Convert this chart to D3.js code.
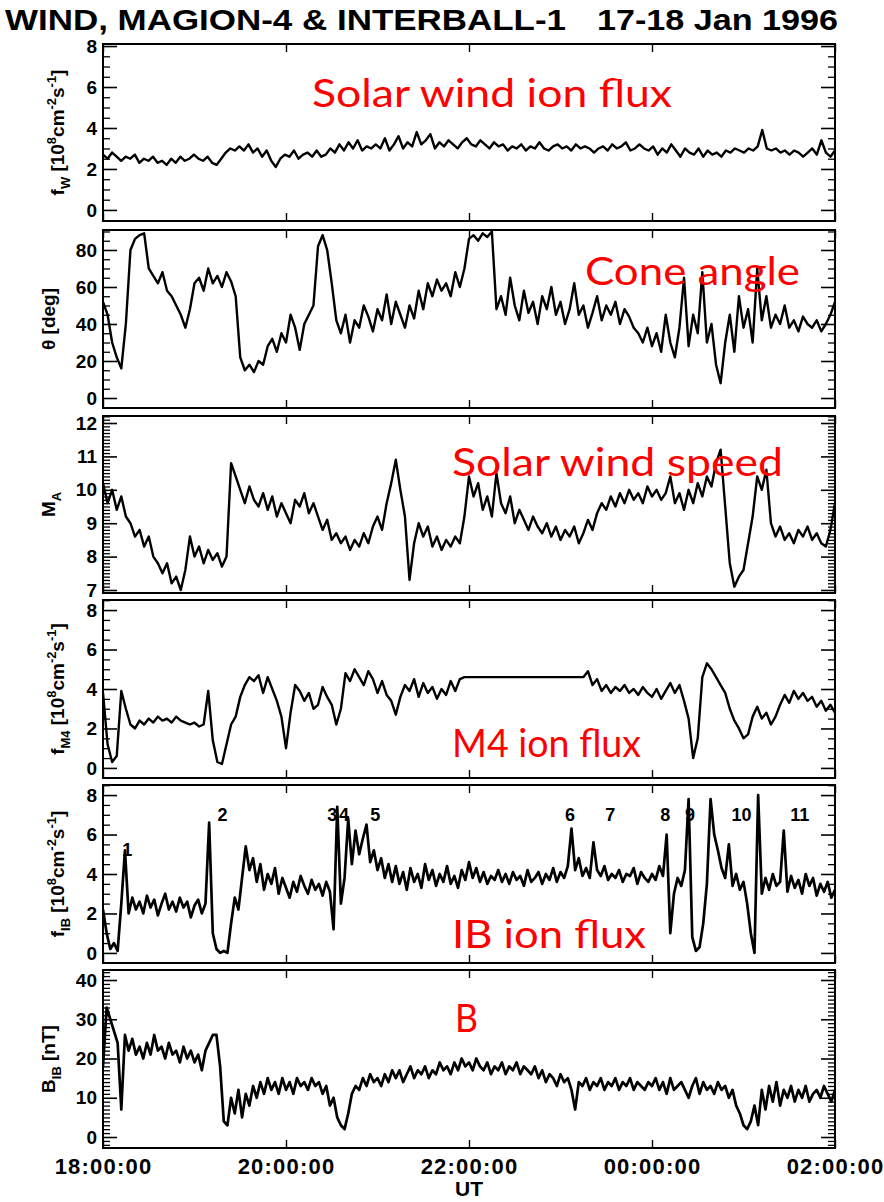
<!DOCTYPE html>
<html><head><meta charset="utf-8">
<script src="https://cdn.jsdelivr.net/npm/d3@7"></script>
<style>body{margin:0;background:#fff}svg{display:block}</style>
</head><body><svg id="c" width="884" height="1202"></svg>
<script>
// ---------- DATA (UT hours after 18:00, evenly sampled over 18:00-02:00) ----------
const titleLeft = "WIND, MAGION-4 & INTERBALL-1";
const titleRight = "17-18 Jan 1996";
const xTickHours = [0, 2, 4, 6, 8];
const xTickLabels = ["18:00:00", "20:00:00", "22:00:00", "00:00:00", "02:00:00"];
const xAxisTitle = "UT";

const fwFlux = [
2.7,2.5,2.8,2.6,2.4,2.6,2.5,2.7,2.3,2.5,2.4,
2.6,2.3,2.4,2.2,2.5,2.3,2.6,2.4,2.5,2.7,
2.5,2.4,2.6,2.3,2.2,2.5,2.8,3.0,2.9,3.1,
2.9,3.2,2.8,3.0,2.6,2.9,2.4,2.1,2.5,2.7,
2.6,2.9,2.5,2.7,2.8,2.6,2.9,2.6,2.7,3.0,
2.8,3.2,2.9,3.3,3.0,3.4,2.9,3.1,3.0,3.2,
3.0,3.5,2.9,3.2,3.6,3.0,3.3,3.1,3.8,3.2,
3.4,3.7,3.0,3.3,3.1,3.4,3.2,3.0,3.3,3.5,
3.2,3.1,3.4,3.2,3.0,3.3,3.1,3.2,2.9,3.1,
3.0,3.2,2.9,3.1,3.0,3.3,3.0,2.9,3.1,3.2,
3.0,3.1,2.9,3.2,3.0,3.1,3.0,2.8,3.0,3.1,
2.9,3.2,3.0,3.1,3.3,2.9,3.0,3.2,3.0,2.9,
3.1,2.7,3.0,2.8,3.2,2.9,2.6,3.0,2.8,2.7,
3.0,2.6,2.9,2.7,2.8,2.6,2.9,2.8,3.0,2.9,
2.8,3.0,2.9,3.1,3.9,3.0,2.9,3.0,2.8,2.9,
2.7,2.9,2.8,2.6,2.8,3.0,2.7,3.4,2.8,2.6,2.9];

const coneAngle = [
52,45,30,22,16,40,80,86,88,89,70,
66,62,68,58,55,50,45,38,48,62,
65,58,70,62,66,60,68,63,55,22,
15,18,14,20,18,28,32,25,35,30,
45,38,26,40,45,50,82,88,80,62,
42,35,45,30,42,38,50,44,36,48,
42,56,40,52,45,38,50,43,58,48,
62,55,64,58,62,55,68,60,70,86,
88,85,89,87,90,48,55,45,65,50,
42,58,46,52,40,55,48,60,45,52,
40,48,62,45,50,38,46,55,42,50,
45,52,40,48,44,38,35,30,38,28,
35,25,45,30,22,38,65,28,45,35,
68,30,40,18,8,30,45,25,55,38,
48,30,70,42,55,38,45,40,50,38,
42,36,44,40,38,42,36,40,45,52];

const alfvenMach = [
10.2,9.6,10.0,9.4,9.8,9.2,9.0,8.6,8.8,8.3,8.6,
8.0,7.8,7.5,7.8,7.2,7.4,7.0,7.6,8.6,8.0,
8.3,7.8,8.2,7.9,8.1,7.7,8.0,10.8,10.4,10.0,
9.6,10.1,9.7,9.5,9.9,9.4,9.8,9.2,9.6,9.3,
9.0,9.7,9.5,9.9,9.3,9.6,9.2,8.8,9.1,8.5,
8.7,8.4,8.6,8.2,8.5,8.3,8.7,8.4,8.9,9.2,
8.8,9.6,10.2,10.9,10.0,9.2,7.3,8.4,9.0,8.6,
8.9,8.3,8.6,8.2,8.5,8.3,8.6,8.4,9.2,10.4,
9.8,10.2,9.4,9.8,9.2,10.5,9.6,9.3,9.8,9.0,
9.4,9.1,8.8,9.2,8.9,8.7,9.0,8.6,8.9,8.5,
8.8,8.6,8.9,8.4,8.7,9.1,8.8,9.3,9.6,9.4,
9.8,9.5,9.9,9.6,10.0,9.7,9.9,9.6,10.1,9.8,
10.0,9.7,9.9,10.4,9.6,9.9,9.4,10.0,9.6,10.2,
9.8,10.4,10.1,10.8,11.2,9.5,7.8,7.1,7.4,7.6,
8.4,9.2,10.4,10.0,10.6,9.0,8.6,8.9,8.5,8.7,
8.4,8.8,8.6,8.9,8.5,8.7,8.4,8.3,8.8,9.6];

const m4Flux = [
3.8,1.2,0.3,0.6,3.9,3.0,2.2,2.0,2.4,2.2,2.5,
2.3,2.6,2.4,2.5,2.3,2.6,2.4,2.3,2.2,2.3,
2.1,2.2,3.9,1.4,0.3,0.2,1.2,2.2,2.6,3.6,
4.2,4.6,4.4,4.7,3.8,4.6,4.0,3.4,2.6,1.0,
2.8,4.2,3.9,3.4,3.8,3.0,3.2,4.1,3.6,3.2,
2.2,3.0,4.8,4.4,5.0,4.6,4.2,4.9,4.5,3.8,
4.4,3.7,3.4,2.7,3.6,4.2,3.9,4.5,3.6,4.3,
3.8,4.1,3.5,4.0,3.7,4.4,3.9,4.5,4.6,4.6,
4.6,4.6,4.6,4.6,4.6,4.6,4.6,4.6,4.6,4.6,
4.6,4.6,4.6,4.6,4.6,4.6,4.6,4.6,4.6,4.6,
4.6,4.6,4.6,4.6,4.6,4.9,4.2,4.5,3.9,4.2,
3.8,4.1,3.9,4.2,3.8,4.0,3.7,4.1,3.8,3.6,
4.0,3.5,3.9,4.3,3.8,4.2,3.4,2.5,0.5,1.5,
4.6,5.3,5.0,4.6,4.2,3.8,3.0,2.4,2.0,1.5,
1.7,2.6,3.1,2.5,2.8,2.2,2.6,3.2,3.7,3.3,
3.9,3.5,3.8,3.4,3.6,3.1,3.4,2.9,3.2,2.8];

const ibFlux = [
2.2,1.0,0.2,0.5,0.1,2.5,5.2,2.0,2.8,2.2,
2.6,2.0,2.9,2.3,2.7,1.9,2.5,3.0,2.2,2.6,
2.1,2.8,2.3,2.6,1.8,2.4,2.7,2.0,2.5,6.6,
1.0,0.2,0.0,0.1,0.0,1.5,2.8,2.2,3.8,5.4,
4.2,4.8,3.6,4.5,3.2,4.0,3.5,4.3,3.0,3.8,
3.3,2.8,3.6,3.1,3.9,3.4,3.0,3.7,3.2,3.5,
2.9,3.6,3.1,1.2,7.4,2.5,3.8,6.8,4.5,6.2,
5.0,5.8,6.5,4.6,5.2,4.2,4.8,3.8,4.5,3.6,
4.4,3.5,4.1,3.2,4.3,3.6,4.0,3.3,4.5,3.7,
4.2,3.4,4.0,3.6,4.4,3.5,3.9,3.3,4.2,3.7,
4.6,3.8,4.3,3.6,4.1,3.5,3.9,3.7,4.2,3.6,
4.0,3.5,4.1,3.7,3.9,3.4,4.2,3.6,3.8,4.1,
3.5,4.0,3.7,4.3,3.6,4.1,3.8,4.4,6.3,4.2,
4.8,3.9,4.3,3.8,5.6,4.2,3.9,4.4,3.7,4.0,
3.8,4.2,3.6,4.0,3.9,4.3,3.5,4.1,3.8,3.6,
4.0,3.7,4.4,3.9,6.0,1.0,3.0,3.8,3.4,4.2,
7.8,0.8,0.1,0.3,1.5,3.5,7.8,6.0,5.2,4.3,
3.8,5.5,3.4,4.0,3.2,3.6,2.5,1.0,0.0,8.0,
3.0,3.8,3.2,4.0,3.4,3.6,6.2,3.1,3.9,3.3,
3.7,3.0,4.0,3.4,3.8,2.9,3.5,3.1,3.6,2.8,3.2];

const bField = [
18,33,30,27,24,7,26,22,25,21,
23,20,24,21,26,22,23,20,24,21,
22,19,23,20,22,19,21,17,22,24,
26,26,18,4,3,10,6,12,5,11,
8,13,10,14,11,15,12,14,11,15,
12,14,11,15,13,14,12,15,13,14,
11,13,8,10,5,3,2,6,11,13,
12,15,13,16,14,15,13,16,14,17,
15,17,14,16,18,15,17,16,18,15,
17,16,19,17,18,16,19,17,20,18,
19,17,20,18,17,19,16,18,17,19,
16,18,17,19,16,18,17,16,18,15,
17,14,16,15,13,16,14,15,12,7,
14,13,15,12,14,13,15,12,14,13,
15,12,14,13,15,12,14,13,12,14,
13,15,12,14,11,15,12,13,14,12,
10,13,15,11,14,12,13,11,14,12,
13,10,12,8,6,3,2,4,8,3,
12,7,13,9,14,8,12,10,13,9,
12,10,13,9,11,12,10,13,11,9,12];

const eventNumbers = ["1","2","3","4","5","6","7","8","9","10","11"];
const eventHours   = [0.21,1.25,2.45,2.58,2.92,5.05,5.49,6.09,6.36,6.87,7.51];
const eventLevels  = [4.9,6.7,6.7,6.7,6.7,6.7,6.7,6.7,6.7,6.7,6.7];

const annotations = ["Solar wind ion flux","Cone angle","Solar wind speed","M4 ion flux","IB ion flux","B"];

// ---------- LAYOUT ----------
const FONT = "'Liberation Sans', Arial, Helvetica, sans-serif";
const X0 = 103, X1 = 835;
const svg = d3.select("#c");
const x = d3.scaleLinear().domain([0, 8]).range([X0, X1]);

const panels = [
  {data: fwFlux, top: 44, bottom: 221, domain: [-0.54, 8.1], major: [0,2,4,6,8], minorStep: 0.5,
   label: [{t:"f"},{t:"W",s:"sub"},{t:" [10"},{t:"8",s:"sup"},{t:"cm"},{t:"-2",s:"sup"},{t:"s"},{t:"-1",s:"sup"},{t:"]"}], labelX: 64},
  {data: coneAngle, top: 230, bottom: 408, domain: [-5.4, 90.8], major: [0,20,40,60,80], minorStep: 5,
   label: [{t:"θ [deg]"}], labelX: 55},
  {data: alfvenMach, top: 416, bottom: 593, domain: [6.91, 12.21], major: [7,8,9,10,11,12], minorStep: 0.1,
   label: [{t:"M"},{t:"A",s:"sub"}], labelX: 55},
  {data: m4Flux, top: 600, bottom: 778, domain: [-0.51, 8.51], major: [0,2,4,6,8], minorStep: 0.5,
   label: [{t:"f"},{t:"M4",s:"sub"},{t:" [10"},{t:"8",s:"sup"},{t:"cm"},{t:"-2",s:"sup"},{t:"s"},{t:"-1",s:"sup"},{t:"]"}], labelX: 64},
  {data: ibFlux, top: 785, bottom: 963, domain: [-0.51, 8.51], major: [0,2,4,6,8], minorStep: 0.5,
   label: [{t:"f"},{t:"IB",s:"sub"},{t:" [10"},{t:"8",s:"sup"},{t:"cm"},{t:"-2",s:"sup"},{t:"s"},{t:"-1",s:"sup"},{t:"]"}], labelX: 64},
  {data: bField, top: 970, bottom: 1148, domain: [-2.8, 42.55], major: [0,10,20,30,40], minorStep: 1,
   label: [{t:"B"},{t:"IB",s:"sub"},{t:" [nT]"}], labelX: 55}
];

const annLayout = [
  {x: 312, y: 107, w: 360, p: 0},
  {x: 585, y: 285, w: 215, p: 1},
  {x: 452, y: 476, w: 331, p: 2},
  {x: 452, y: 757, w: 189, p: 3},
  {x: 452, y: 948, w: 194, p: 4},
  {x: 455, y: 1032, w: 23, p: 5}
];

// ---------- TITLE ----------
svg.append("text").attr("x", 5).attr("y", 30).text(titleLeft)
  .attr("font-family", FONT).attr("font-weight", "bold").attr("font-size", 30)
  .attr("textLength", 561).attr("lengthAdjust", "spacingAndGlyphs");
svg.append("text").attr("x", 597).attr("y", 30).text(titleRight)
  .attr("font-family", FONT).attr("font-weight", "bold").attr("font-size", 30)
  .attr("textLength", 241).attr("lengthAdjust", "spacingAndGlyphs");

const defs = svg.append("defs");

panels.forEach((p, k) => {
  const y = d3.scaleLinear().domain(p.domain).range([p.bottom, p.top]);
  const g = svg.append("g");
  const eps = 1e-6;
  const minor = d3.range(Math.ceil(p.domain[0] / p.minorStep - eps) * p.minorStep, p.domain[1] + eps, p.minorStep)
    .map(v => +v.toFixed(4))
    .filter(v => !p.major.some(m => Math.abs(m - v) < eps));

  g.append("g").attr("transform", `translate(${X0},0)`)
    .call(d3.axisLeft(y).tickValues(minor).tickSize(-7).tickFormat(""))
    .call(s => s.select(".domain").remove())
    .call(s => s.selectAll("line").attr("stroke-width", 1.3));
  g.append("g").attr("transform", `translate(${X1},0)`)
    .call(d3.axisRight(y).tickValues(minor).tickSize(-7).tickFormat(""))
    .call(s => s.select(".domain").remove())
    .call(s => s.selectAll("line").attr("stroke-width", 1.3));
  g.append("g").attr("transform", `translate(${X0},0)`)
    .call(d3.axisLeft(y).tickValues(p.major).tickSize(-14).tickPadding(6).tickFormat(d3.format("d")))
    .call(s => s.select(".domain").remove())
    .call(s => s.selectAll("line").attr("stroke-width", 1.6))
    .call(s => s.selectAll("text").attr("font-family", FONT).attr("font-weight", "bold").attr("font-size", 19).attr("fill", "#000"));
  g.append("g").attr("transform", `translate(${X1},0)`)
    .call(d3.axisRight(y).tickValues(p.major).tickSize(-14).tickFormat(""))
    .call(s => s.select(".domain").remove())
    .call(s => s.selectAll("line").attr("stroke-width", 1.6));
  g.append("g").attr("transform", `translate(0,${p.top})`)
    .call(d3.axisTop(x).tickValues(xTickHours).tickSize(-8).tickFormat(""))
    .call(s => s.select(".domain").remove())
    .call(s => s.selectAll("line").attr("stroke-width", 1.4));
  g.append("g").attr("transform", `translate(0,${p.bottom})`)
    .call(d3.axisBottom(x).tickValues(xTickHours).tickSize(-8).tickPadding(10)
      .tickFormat((d, i) => k === panels.length - 1 ? xTickLabels[i] : ""))
    .call(s => s.select(".domain").remove())
    .call(s => s.selectAll("line").attr("stroke-width", 1.4))
    .call(s => s.selectAll("text").attr("font-family", FONT).attr("font-weight", "bold")
      .attr("font-size", 22).attr("letter-spacing", 1.2).attr("fill", "#000"));

  g.append("rect").attr("x", X0).attr("y", p.top).attr("width", X1 - X0).attr("height", p.bottom - p.top)
    .attr("fill", "none").attr("stroke", "#000").attr("stroke-width", 2);

  defs.append("clipPath").attr("id", "clip" + k).append("rect")
    .attr("x", X0).attr("y", p.top).attr("width", X1 - X0).attr("height", p.bottom - p.top);
  const n = p.data.length;
  const line = d3.line().x((d, i) => x(i * 8 / (n - 1))).y(d => y(d));
  g.append("path").datum(p.data).attr("d", line).attr("clip-path", `url(#clip${k})`)
    .attr("fill", "none").attr("stroke", "#000").attr("stroke-width", k >= 4 ? 2.7 : 2.4).attr("stroke-linejoin", "round");

  const fs = 19, cy = (p.top + p.bottom) / 2;
  const t = svg.append("text").attr("transform", `translate(${p.labelX},${cy}) rotate(-90)`)
    .attr("text-anchor", "middle").attr("font-family", FONT).attr("font-weight", "bold").attr("font-size", fs);
  let cur = 0;
  p.label.forEach(part => {
    const target = part.s === "sub" ? 0.3 * fs : part.s === "sup" ? -0.42 * fs : 0;
    const ts = t.append("tspan").text(part.t).attr("dy", target - cur);
    if (part.s) ts.attr("font-size", fs * 0.68);
    cur = target;
  });

  if (k === 4) {
    eventNumbers.forEach((lab, i) => {
      svg.append("text").attr("x", x(eventHours[i])).attr("y", y(eventLevels[i])).text(lab)
        .attr("font-family", FONT).attr("font-weight", "bold").attr("font-size", 18);
    });
  }
});

svg.append("text").attr("x", (X0 + X1) / 2).attr("y", 1196).attr("text-anchor", "middle").text(xAxisTitle)
  .attr("font-family", FONT).attr("font-weight", "bold").attr("font-size", 21);

annLayout.forEach(a => {
  svg.append("text").attr("x", a.x).attr("y", a.y).text(annotations[a.p])
    .attr("font-family", "Lato, 'Open Sans', sans-serif").attr("font-size", 38).attr("fill", "#ff0000")
    .attr("textLength", a.w).attr("lengthAdjust", "spacingAndGlyphs");
});
</script></body></html>
